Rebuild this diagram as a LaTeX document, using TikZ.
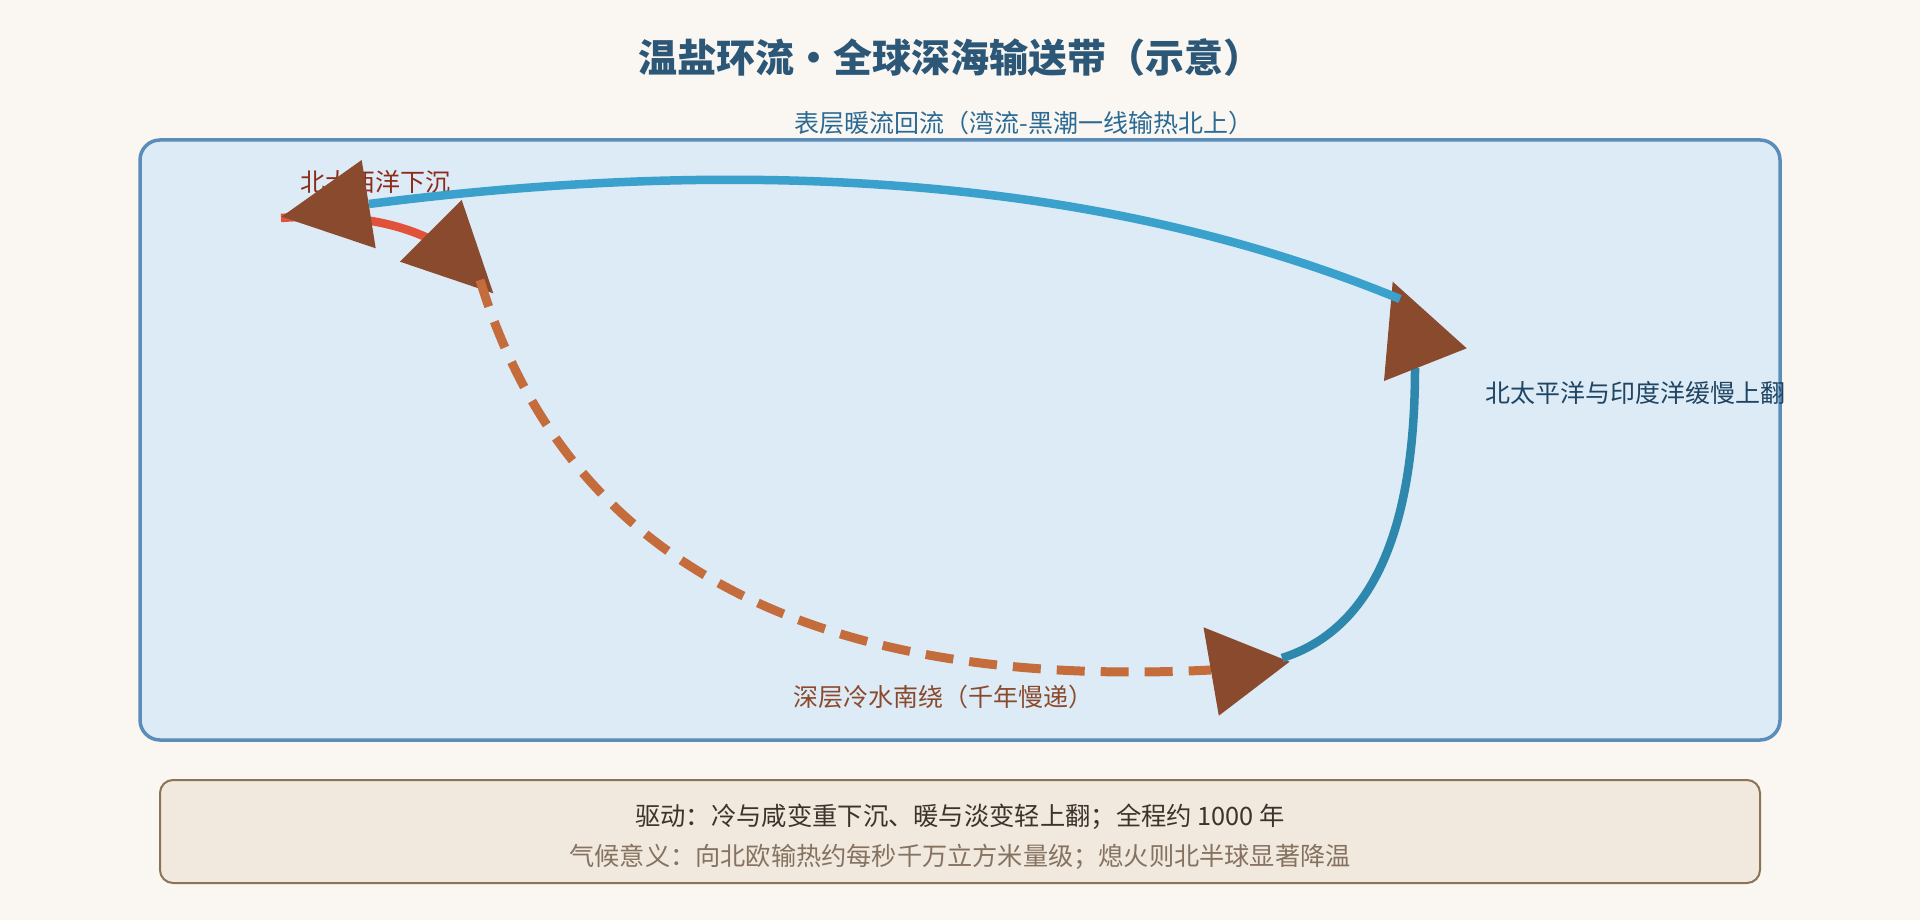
\documentclass[tikz,border=0pt]{standalone}
\usepackage{fontspec}
\setmainfont{Noto Sans CJK SC}
\definecolor{bgc}{HTML}{FAF7F2}
\definecolor{boxfill}{HTML}{DDEBF7}
\definecolor{boxline}{HTML}{5B8DB8}
\definecolor{notefill}{HTML}{F1E9DD}
\definecolor{noteline}{HTML}{8B7355}
\definecolor{titlec}{HTML}{2C5777}
\definecolor{toplabc}{HTML}{2B6A94}
\definecolor{rightlabc}{HTML}{1F4563}
\definecolor{redlabc}{HTML}{8B2C1A}
\definecolor{botlabc}{HTML}{8B4A2B}
\definecolor{redc}{HTML}{E0533A}
\definecolor{topbluec}{HTML}{3AA1CC}
\definecolor{lowbluec}{HTML}{2E88AE}
\definecolor{dashc}{HTML}{C46C3B}
\definecolor{arrowc}{HTML}{8A4A2D}
\definecolor{line1c}{HTML}{3B342C}
\definecolor{line2c}{HTML}{857260}
\begin{document}
\begin{tikzpicture}[x=1pt,y=-1pt,
  lab/.style={inner sep=0pt,font=\fontsize{25}{29}\selectfont},
  flow/.style={line width=8.5pt,line cap=butt},
  head/.style={fill=arrowc}]
\useasboundingbox (0,0) rectangle (1920,920);
\fill[bgc] (0,0) rectangle (1920,920);
% main panel
\draw[boxline,fill=boxfill,line width=3.5pt,rounded corners=20pt] (140,140) rectangle (1780,740);
% note panel
\draw[noteline,fill=notefill,line width=2pt,rounded corners=13pt] (160,780) rectangle (1760,883);
% title
\node[inner sep=0pt,anchor=base,text=titlec,font=\fontsize{39}{45}\selectfont\bfseries] (title) at (950,73) {温盐环流·全球深海输送带（示意）};
% labels
\node[lab,anchor=base,text=toplabc] (toplab) at (1024,133) {表层暖流回流（湾流-黑潮一线输热北上）};
\node[lab,anchor=base west,text=redlabc] (redlab) at (300,192) {北大西洋下沉};
\node[lab,anchor=base west,text=rightlabc] (rightlab) at (1485,402) {北太平洋与印度洋缓慢上翻};
\node[lab,anchor=base,text=botlabc] (botlab) at (943.5,706) {深层冷水南绕（千年慢递）};
% bottom text
\node[inner sep=0pt,anchor=base,text=line1c,font=\fontsize{25.3}{30}\selectfont] (line1) at (960,825) {驱动：冷与咸变重下沉、暖与淡变轻上翻；全程约 1000 年};
\node[inner sep=0pt,anchor=base,text=line2c,font=\fontsize{25.2}{30}\selectfont] (line2) at (960,865) {气候意义：向北欧输热约每秒千万立方米量级；熄火则北半球显著降温};
% key points
\coordinate (sinkS) at (281,218);
\coordinate (sinkE) at (432,240);
\coordinate (deepS) at (480,280);
\coordinate (deepE) at (1211,670);
\coordinate (upS) at (1282,658);
\coordinate (upE) at (1415,368);
\coordinate (retS) at (1400,299);
\coordinate (retE) at (369,204);
% arrowhead corners
\coordinate (hA1) at (400,261.7);
\coordinate (hA2) at (461.7,200);
\coordinate (hA3) at (493.3,293.3);
\coordinate (hB1) at (1203.5,627.3);
\coordinate (hB2) at (1218.8,715.7);
\coordinate (hB3) at (1289.6,661.7);
\coordinate (hC1) at (1384,381);
\coordinate (hC2) at (1466.7,348.3);
\coordinate (hC3) at (1392.7,281.7);
\coordinate (hD1) at (361.7,160);
\coordinate (hD2) at (375.7,248.3);
\coordinate (hD3) at (281.7,216.7);
% sinking (red)
\draw[flow,redc] (sinkS) .. controls (342.7,213.3) and (393,220.7) .. (sinkE);
\fill[head] (hA1) -- (hA2) -- (hA3) -- cycle;
% deep cold water (dashed)
\draw[flow,dashc,line width=9pt,dash pattern=on 28pt off 16pt] (deepS) .. controls (565.3,560) and (809,690) .. (deepE);
\fill[head] (hB1) -- (hB2) -- (hB3) -- cycle;
% upwelling (lower blue)
\draw[flow,lowbluec] (upS) .. controls (1370.7,630) and (1415,533.3) .. (upE);
\fill[head] (hC1) -- (hC2) -- (hC3) -- cycle;
% surface return (top blue)
\draw[flow,topbluec] (retS) .. controls (1120,183.7) and (776.3,152) .. (retE);
\fill[head] (hD1) -- (hD2) -- (hD3) -- cycle;
\end{tikzpicture}
\end{document}
